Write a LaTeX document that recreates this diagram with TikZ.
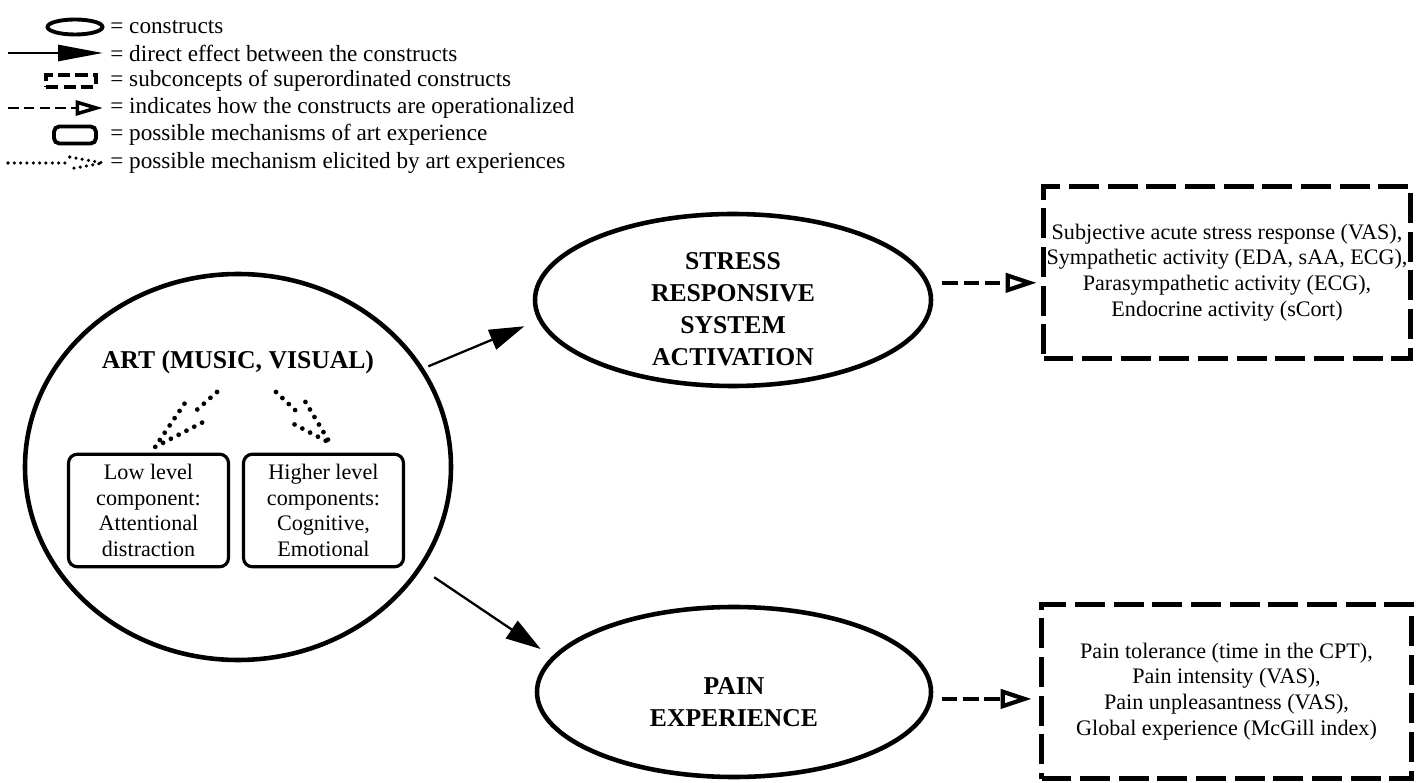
\documentclass[tikz,border=0pt]{standalone}
\usepackage{fontspec}
\setmainfont{Liberation Serif}
\usetikzlibrary{positioning, arrows.meta, shapes.geometric, calc}
\newcommand{\txtfont}{\fontsize{12.6}{14.6}\selectfont}
\newcommand{\lgdfont}{\fontsize{13.2}{15}\selectfont}
\newcommand{\hdrfont}{\fontsize{14.6}{18.2}\selectfont\bfseries}
\tikzset{
    construct/.style={ellipse, draw, line width=2.6pt, inner sep=0pt},
    conlabel/.style={align=center, font=\hdrfont, inner sep=0pt},
    mechbox/.style={draw, rounded corners=5pt, line width=1.8pt, inner sep=0pt,
        align=center, font=\txtfont, minimum width=3.2cm, minimum height=2.25cm},
    subbox/.style={draw, line width=3.2pt, dash pattern=on 17pt off 5pt,
        inner sep=0pt, align=center, font=\txtfont},
    effect/.style={line width=1.3pt, -{Triangle[length=0.7cm, width=0.42cm]}},
    oper/.style={line width=2pt, dash pattern=on 9pt off 3pt,
        -{Triangle[open, length=0.62cm, width=0.38cm, line width=2.4pt]}},
    mechlink/.style 2 args={line width=2.7pt, line cap=round,
        dash pattern=on 0pt off 5pt,
        to path={-- ($(\tikztostart)!#1!(\tikztotarget)$)
            ($(\tikztostart)!#1!(\tikztotarget)!#2!90:(\tikztotarget)$)
            -- (\tikztotarget)
            -- ($(\tikztostart)!#1!(\tikztotarget)!#2!-90:(\tikztotarget)$)}},
    lgdtext/.style={anchor=west, inner sep=0pt, font=\lgdfont}
}
\begin{document}
\begin{tikzpicture}
    \useasboundingbox (0,0) rectangle (28.34,15.64);

    \node[ellipse, draw, line width=2.2pt, minimum width=1.1cm,
          minimum height=0.3cm, inner sep=0pt] (k1) at (1.50,15.10) {};
    \node[lgdtext] (k1txt) at (2.20,15.10) {= constructs};
    \coordinate (k2a) at (0.16,14.58);
    \coordinate (k2b) at (2.06,14.58);
    \draw[line width=1.6pt, -{Triangle[length=0.9cm, width=0.32cm]}]
        (k2a) -- (k2b);
    \node[lgdtext] (k2txt) at (2.20,14.58)
        {= direct effect between the constructs};
    \node[draw, line width=2.2pt, dash pattern=on 7pt off 3pt,
          minimum width=1.0cm, minimum height=0.24cm, inner sep=0pt]
        (k3) at (1.42,14.02) {};
    \node[lgdtext] (k3txt) at (2.20,14.02)
        {= subconcepts of superordinated constructs};
    \coordinate (k4a) at (0.16,13.48);
    \coordinate (k4b) at (2.06,13.48);
    \draw[line width=1.6pt, dash pattern=on 6pt off 3pt,
          -{Triangle[open, length=0.55cm, width=0.3cm, line width=2pt]}]
        (k4a) -- (k4b);
    \node[lgdtext] (k4txt) at (2.20,13.48)
        {= indicates how the constructs are operationalized};
    \node[draw, rounded corners=3pt, line width=2.2pt, minimum width=0.84cm,
          minimum height=0.34cm, inner sep=0pt] (k5) at (1.50,12.94) {};
    \node[lgdtext] (k5txt) at (2.20,12.94)
        {= possible mechanisms of art experience};
    \coordinate (k6a) at (0.16,12.38);
    \coordinate (k6b) at (2.06,12.38);
    \draw[mechlink={0.65}{0.12cm}, line width=2pt, dash pattern=on 0pt off 3.6pt]
        (k6a) to (k6b);
    \node[lgdtext] (k6txt) at (2.20,12.38)
        {= possible mechanism elicited by art experiences};

    \node[construct, minimum width=8.52cm, minimum height=7.72cm]
        (art) at (4.76,6.30) {};
    \node[conlabel] (artlbl) at (4.76,8.40) {ART (MUSIC, VISUAL)};
    \node[mechbox] (low) at (2.97,5.43)
        {Low level\\component:\\Attentional\\distraction};
    \node[mechbox] (high) at (6.47,5.43)
        {Higher level\\components:\\Cognitive,\\Emotional};
    \coordinate (lowsrc) at (4.34,7.80);
    \coordinate (lowtip) at (3.10,6.70);
    \coordinate (highsrc) at (5.52,7.80);
    \coordinate (hightip) at (6.60,6.78);
    \draw[mechlink={0.38}{0.26cm}] (lowsrc) to (lowtip);
    \draw[mechlink={0.38}{0.26cm}] (highsrc) to (hightip);

    \node[construct, minimum width=7.92cm, minimum height=3.44cm]
        (stress) at (14.66,9.64) {};
    \node[conlabel] (stresslbl) at ([yshift=-0.18cm]stress.center)
        {STRESS\\RESPONSIVE\\SYSTEM\\ACTIVATION};
    \node[construct, minimum width=7.88cm, minimum height=3.40cm]
        (pain) at (14.68,1.80) {};
    \node[conlabel] (painlbl) at ([yshift=-0.2cm]pain.center)
        {PAIN\\EXPERIENCE};

    \node[subbox, minimum width=7.34cm, minimum height=3.44cm]
        (stressind) at (24.54,10.19)
        {Subjective acute stress response (VAS),\\
         Sympathetic activity (EDA, sAA, ECG),\\
         Parasympathetic activity (ECG),\\
         Endocrine activity (sCort)};
    \node[subbox, minimum width=7.40cm, minimum height=3.48cm]
        (painind) at (24.53,1.81)
        {Pain tolerance (time in the CPT),\\
         Pain intensity (VAS),\\
         Pain unpleasantness (VAS),\\
         Global experience (McGill index)};

    \draw[effect, shorten <=0.1cm, shorten >=0.3cm] (art.28) -- (stress.186);
    \draw[effect, shorten <=0.3cm, shorten >=0.27cm] (art.-29) -- (pain.169);
    \draw[oper, shorten <=0.26cm, shorten >=0.08cm]
        (stress.5) -- (stressind.west |- stress.5);
    \draw[oper, shorten <=0.18cm, shorten >=0.14cm]
        (pain.-2) -- (painind.west |- pain.-2);
\end{tikzpicture}
\end{document}
